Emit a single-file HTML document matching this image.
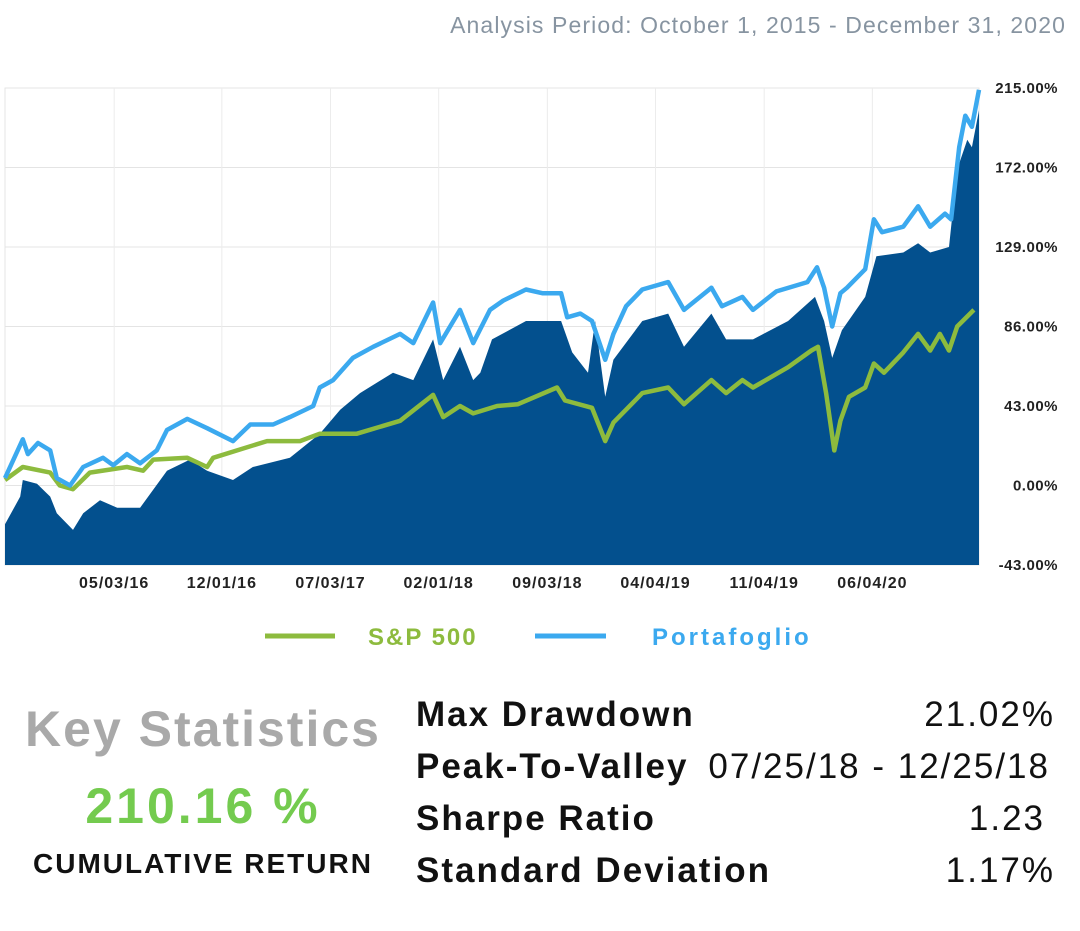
<!DOCTYPE html>
<html><head><meta charset="utf-8">
<style>
html,body{margin:0;padding:0;background:#fff;width:1080px;height:931px;overflow:hidden;font-family:"Liberation Sans",sans-serif;}
.abs{position:absolute;white-space:nowrap;}
.lab{letter-spacing:2px;}
</style></head>
<body>
<div class="abs" style="right:14px;top:12px;font-size:23px;color:#8794a1;letter-spacing:1.1px;">Analysis Period: October 1, 2015 - December 31, 2020</div>
<svg id="chart" width="1080" height="660" style="position:absolute;left:0;top:0;"></svg>

<div class="abs" style="left:0;width:406px;text-align:center;top:700px;font-size:50px;font-weight:bold;color:#a9a9a9;letter-spacing:2px;">Key Statistics</div>
<div class="abs" style="left:0;width:406px;text-align:center;top:777px;font-size:50px;font-weight:bold;color:#74cb4f;letter-spacing:3px;">210.16 %</div>
<div class="abs" style="left:0;width:406px;text-align:center;top:848px;font-size:28px;font-weight:bold;color:#111;letter-spacing:2px;">CUMULATIVE RETURN</div>

<div>
<div class="abs lab" style="left:416px;top:695px;font-size:35px;font-weight:bold;color:#111;">Max Drawdown</div>
<div class="abs lab" style="right:25px;top:695px;font-size:35px;color:#111;">21.02%</div>
<div class="abs lab" style="left:416px;top:747px;font-size:35px;font-weight:bold;color:#111;">Peak-To-Valley</div>
<div class="abs lab" style="right:30px;top:747px;font-size:35px;color:#111;">07/25/18 - 12/25/18</div>
<div class="abs lab" style="left:416px;top:799px;font-size:35px;font-weight:bold;color:#111;">Sharpe Ratio</div>
<div class="abs lab" style="right:35px;top:799px;font-size:35px;color:#111;">1.23</div>
<div class="abs lab" style="left:416px;top:851px;font-size:35px;font-weight:bold;color:#111;">Standard Deviation</div>
<div class="abs lab" style="right:25px;top:851px;font-size:35px;color:#111;">1.17%</div>
</div>

<script>
const yTicks=[215,172,129,86,43,0,-43];
const yTickLabels=["215.00%","172.00%","129.00%","86.00%","43.00%","0.00%","-43.00%"];
const xTickDays=[215,427,641,854,1068,1281,1495,1708];
const xTickLabels=["05/03/16","12/01/16","07/03/17","02/01/18","09/03/18","04/04/19","11/04/19","06/04/20"];
const portDays=[0,35,45,65,89,102,128,154,193,213,240,266,299,319,359,398,449,483,528,561,607,620,646,685,725,778,804,843,857,896,922,955,981,1026,1058,1095,1107,1133,1156,1182,1198,1223,1255,1306,1337,1391,1412,1452,1473,1519,1580,1599,1613,1629,1645,1658,1694,1711,1727,1769,1798,1822,1851,1863,1879,1891,1904,1918];
const portVals=[4,25,17,23,19,4,0,10,15,11,17,12,19,30,36,31,24,33,33,37,43,53,57,69,75,82,77,99,77,95,77,95,100,106,104,104,91,93,89,68,82,97,106,110,95,107,97,102,95,105,110,118,107,86,104,107,117,144,137,140,151,140,147,144,183,200,194,214];
const spDays=[0,35,89,108,134,167,240,272,292,359,398,410,516,581,620,693,778,843,863,896,922,969,1010,1087,1103,1156,1182,1198,1255,1306,1337,1391,1420,1452,1473,1542,1588,1601,1617,1633,1645,1662,1694,1711,1731,1769,1798,1822,1841,1859,1875,1908];
const spVals=[3,10,7,0,-2,7,10,8,14,15,10,15,24,24,28,28,35,49,37,43,39,43,44,53,46,42,24,34,50,53,44,57,50,57,53,64,73,75,50,19,35,48,53,66,61,72,82,73,82,73,86,95];
const areaDays=[0,30,35,63,89,102,134,154,187,221,266,319,364,398,449,488,561,620,660,699,764,804,843,863,896,922,936,959,1026,1095,1117,1148,1162,1182,1198,1255,1306,1337,1391,1420,1473,1542,1595,1613,1629,1648,1694,1716,1769,1798,1822,1859,1875,1895,1904,1918];
const areaVals=[-21,-6,3,1,-6,-15,-24,-15,-8,-12,-12,8,14,8,3,10,15,28,41,50,61,57,79,57,75,57,61,79,89,89,72,61,89,48,68,89,93,75,93,79,79,89,102,89,69,84,102,124,126,131,126,129,171,187,183,203];

const NS="http://www.w3.org/2000/svg";
const svg=document.getElementById('chart');
const L=5,R=979,T=88,B=565,DMAX=1918,VMIN=-43,VMAX=215;
const xs=d=>L+(d/DMAX)*(R-L);
const ys=v=>B-(v-VMIN)/(VMAX-VMIN)*(B-T);
function mk(tag,attrs){const e=document.createElementNS(NS,tag);for(const k in attrs)e.setAttribute(k,attrs[k]);svg.appendChild(e);return e;}

const frame=mk('rect',{x:L,y:T,width:R-L,height:B-T,fill:'none',stroke:'#e6e6e6','stroke-width':1});


yTicks.forEach((v,i)=>{
  const g=mk('line',{x1:L,x2:R,y1:ys(v),y2:ys(v),stroke:'#e4e4e4','stroke-width':1});
  
  
  const t=mk('text',{x:1058,y:ys(v)+5,'text-anchor':'end','font-size':15,'font-weight':'bold',fill:'#222','font-family':'Liberation Sans, sans-serif','letter-spacing':'0.5'});
  t.textContent=yTickLabels[i];
  
  
});
xTickDays.forEach((d,i)=>{
  const g=mk('line',{x1:xs(d),x2:xs(d),y1:T,y2:B,stroke:'#ececec','stroke-width':1});
  
  
  const t=mk('text',{x:xs(d),y:588,'text-anchor':'middle','font-size':16,'font-weight':'bold',fill:'#222','font-family':'Liberation Sans, sans-serif','letter-spacing':'1'});
  t.textContent=xTickLabels[i];
  
  
});
let ap='M'+xs(areaDays[0])+','+ys(VMIN);
areaDays.forEach((d,i)=>{ap+=' L'+xs(d).toFixed(1)+','+ys(areaVals[i]).toFixed(1);});
ap+=' L'+xs(areaDays[areaDays.length-1])+','+ys(VMIN)+' Z';
const area=mk('path',{d:ap,fill:'#03508e'});


function line(days,vals,color,name){
  const p=days.map((d,i)=>(i?'L':'M')+xs(d).toFixed(1)+','+ys(vals[i]).toFixed(1)).join(' ');
  const e=mk('path',{d:p,fill:'none',stroke:color,'stroke-width':4.5,'stroke-linejoin':'round'});
  
  
}
line(spDays,spVals,'#8dbb3e','sp500-line');
line(portDays,portVals,'#3ba9ef','portfolio-line');

const l1=mk('line',{x1:265,x2:335,y1:636,y2:636,stroke:'#8dbb3e','stroke-width':5});


const t1=mk('text',{x:368,y:645,'font-size':24,'font-weight':'bold',fill:'#8dbb3e','font-family':'Liberation Sans, sans-serif','letter-spacing':'2'});
t1.textContent='S&P 500';


const l2=mk('line',{x1:535,x2:606,y1:636,y2:636,stroke:'#3ba9ef','stroke-width':5});


const t2=mk('text',{x:652,y:645,'font-size':24,'font-weight':'bold',fill:'#3ba9ef','font-family':'Liberation Sans, sans-serif','letter-spacing':'3'});
t2.textContent='Portafoglio';


</script>
</body></html>
